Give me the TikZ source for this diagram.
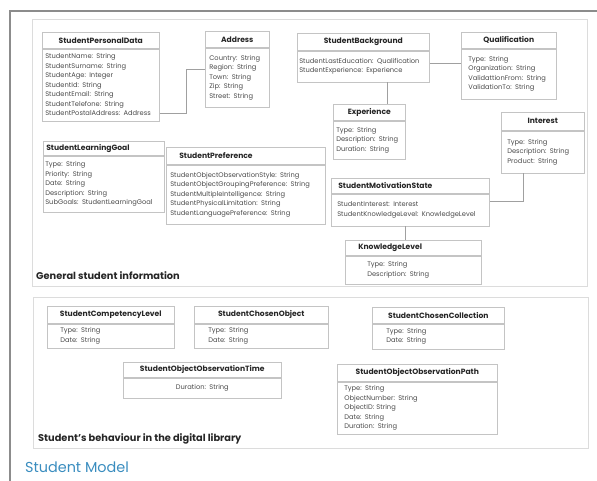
\documentclass[tikz,border=0pt]{standalone}
\usepackage{fontspec}
\setmainfont{Poppins}
\usetikzlibrary{positioning, calc}
\definecolor{framegrey}{HTML}{8C8C8C}
\definecolor{panelgrey}{HTML}{DCDCDC}
\definecolor{boxgrey}{HTML}{C4C4C4}
\definecolor{linkgrey}{HTML}{A0A0A0}
\definecolor{headtext}{HTML}{262626}
\definecolor{attrtext}{HTML}{4A4A4A}
\definecolor{modelblue}{HTML}{3A8DBF}

\begin{document}
\begin{tikzpicture}[
      x=1pt, y=-1pt,
      classhead/.style={draw=boxgrey, line width=0.6pt, anchor=north west,
        inner sep=0pt, text=headtext, align=center,
        font=\fontsize{7.6}{9}\selectfont\bfseries},
      classattrs/.style={draw=boxgrey, line width=0.6pt, inner sep=0pt,
        text=attrtext, align=left, font=\fontsize{6.7}{9.5}\selectfont},
      panel/.style={draw=panelgrey, line width=0.8pt},
      grouplabel/.style={anchor=west, inner sep=0pt, text=headtext,
        font=\fontsize{9.8}{11}\selectfont\bfseries},
      link/.style={draw=linkgrey, line width=0.6pt}
    ]
      \useasboundingbox (0,0) rectangle (597,481);
      \draw[framegrey, line width=2pt] (10,481) -- (10,11) -- (597,11);
      \draw[panel] (32,19) rectangle (587,286);
      \draw[panel] (33,297) rectangle (588,448);

      \node[classhead, minimum width=117pt, minimum height=16pt] (pdh)
        at (42,32) {StudentPersonalData};
      \node[classattrs, below=0pt of pdh, minimum width=117pt,
        text width=111pt, minimum height=72pt] (pdb)
        {StudentName: String\\StudentSurname: String\\StudentAge: Integer\\
         StudentId: String\\StudentEmail: String\\StudentTelefone: String\\
         StudentPostalAddress: Address};
      \node[classhead, minimum width=64pt, minimum height=16pt] (adh)
        at (205,31) {Address};
      \node[classattrs, below=0pt of adh, minimum width=64pt,
        text width=56pt, minimum height=59pt] (adb)
        {Country: String\\Region: String\\Town: String\\Zip: String\\
         Street: String};
      \node[classhead, minimum width=132pt, minimum height=17pt] (bgh)
        at (297,33) {StudentBackground};
      \node[classattrs, below=0pt of bgh, minimum width=132pt,
        text width=128pt, minimum height=31pt] (bgb)
        {StudentLastEducation: Qualification\\StudentExperience: Experience};
      \node[classhead, minimum width=95pt, minimum height=16pt] (quh)
        at (461,32) {Qualification};
      \node[classattrs, below=0pt of quh, minimum width=95pt,
        text width=81pt, minimum height=50pt] (qub)
        {Type: String\\Organization: String\\ValidattionFrom: String\\
         ValidationTo: String};
      \node[classhead, minimum width=72pt, minimum height=16pt] (exh)
        at (333,104) {Experience};
      \node[classattrs, below=0pt of exh, minimum width=72pt,
        text width=66pt, minimum height=38pt] (exb)
        {Type: String\\Description: String\\Duration: String};
      \node[classhead, minimum width=83pt, minimum height=18pt] (inh)
        at (501,112) {Interest};
      \node[classattrs, below=0pt of inh, minimum width=83pt,
        text width=71pt, minimum height=42pt] (inb)
        {Type: String\\Description: String\\Product: String};
      \node[classhead, minimum width=121pt, minimum height=14pt,
        text width=115pt, align=left] (lgh)
        at (43,141) {StudentLearningGoal};
      \node[classattrs, below=0pt of lgh, minimum width=121pt,
        text width=117pt, minimum height=56pt] (lgb)
        {Type: String\\Priority: String\\Date: String\\Description: String\\
         SubGoals: StudentLearningGoal};
      \node[classhead, minimum width=159pt, minimum height=17pt,
        text width=133pt, align=left] (prh)
        at (166,147) {StudentPreference};
      \node[classattrs, below=0pt of prh, minimum width=159pt,
        text width=151pt, minimum height=59pt] (prb)
        {StudentObjectObservationStyle: String\\
         StudentObjectGroupingPreference: String\\
         StudentMultipleIntelligence: String\\
         StudentPhysicalLimitation: String\\
         StudentLanguagePreference: String};
      \node[classhead, minimum width=158pt, minimum height=15pt,
        text width=144pt, align=left] (smh)
        at (331,178) {StudentMotivationState};
      \node[classattrs, below=0pt of smh, minimum width=158pt,
        text width=146pt, minimum height=32pt] (smb)
        {StudentInterest: Interest\\StudentKnowledgeLevel: KnowledgeLevel};
      \node[classhead, minimum width=136pt, minimum height=15pt,
        text width=110pt, align=left] (klh)
        at (345,240) {KnowledgeLevel};
      \node[classattrs, below=0pt of klh, minimum width=136pt,
        text width=92pt, minimum height=28pt] (klb)
        {Type: String\\Description: String};
      \node[grouplabel] (general) at (36,276) {General student information};

      \draw[link] ($(pdb.south east)!0.11!(pdb.north east)$) -- ++(27pt,0)
        |- ($(adb.north west)!0.36!(adb.south west)$);
      \draw[link] ($(bgb.north east)!0.39!(bgb.south east)$) coordinate (bgq)
        -- (bgq -| qub.west);
      \draw[link] ($(bgb.south west)!0.68!(bgb.south east)$) coordinate (bge)
        -- (bge |- exh.north);
      \draw[link] ($(inb.south west)!0.27!(inb.south east)$)
        |- ($(smb.north east)!0.25!(smb.south east)$);
      \draw[link] ($(smb.south west)!0.47!(smb.south east)$) coordinate (smk)
        -- (smk |- klh.north);

      \node[classhead, minimum width=127pt, minimum height=17pt] (clh)
        at (47,306) {StudentCompetencyLevel};
      \node[classattrs, below=0pt of clh, minimum width=127pt,
        text width=101pt, minimum height=24pt] (clb)
        {Type: String\\Date: String};
      \node[classhead, minimum width=134pt, minimum height=17pt] (coh)
        at (194,306) {StudentChosenObject};
      \node[classattrs, below=0pt of coh, minimum width=134pt,
        text width=106pt, minimum height=24pt] (cob)
        {Type: String\\Date: String};
      \node[classhead, minimum width=132pt, minimum height=16pt] (cch)
        at (372,307) {StudentChosenCollection};
      \node[classattrs, below=0pt of cch, minimum width=132pt,
        text width=104pt, minimum height=25pt] (ccb)
        {Type: String\\Date: String};
      \node[classhead, minimum width=158pt, minimum height=15pt] (oth)
        at (123,362) {StudentObjectObservationTime};
      \node[classattrs, below=0pt of oth, minimum width=158pt,
        text width=140pt, align=center, minimum height=20pt] (otb)
        {Duration: String};
      \node[classhead, minimum width=160pt, minimum height=17pt] (oph)
        at (337,364) {StudentObjectObservationPath};
      \node[classattrs, below=0pt of oph, minimum width=160pt,
        text width=146pt, minimum height=52pt] (opb)
        {Type: String\\ObjectNumber: String\\ObjectID: String\\Date: String\\
         Duration: String};
      \node[grouplabel] (behaviour) at (38,439)
        {Student's behaviour in the digital library};

      \node[anchor=west, inner sep=0pt, text=modelblue,
        font=\fontsize{14.4}{16}\selectfont] (model) at (25,467) {Student Model};
    \end{tikzpicture}
\end{document}
